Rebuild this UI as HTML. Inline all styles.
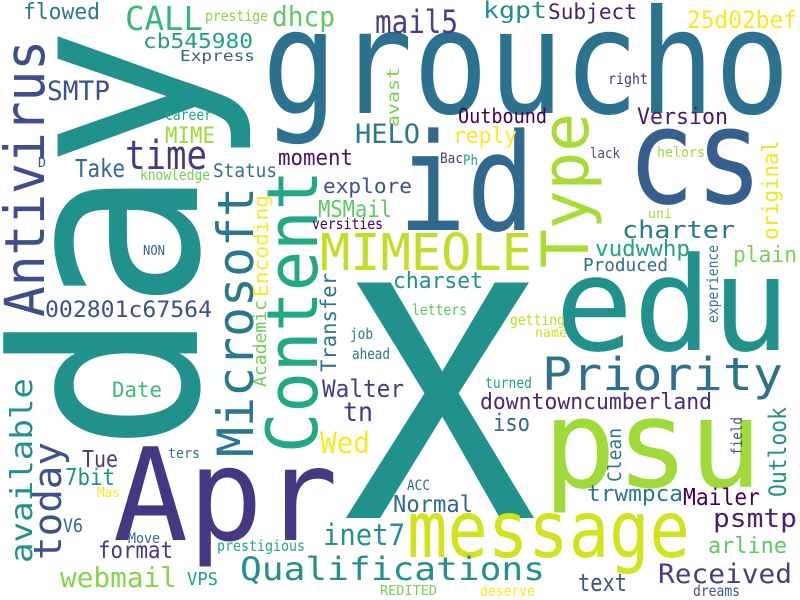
<!DOCTYPE html>
<html><head><meta charset="utf-8"><style>
html,body{margin:0;padding:0;background:#fff}
svg{display:block}
text{font-family:"DejaVu Sans Mono","Liberation Mono",monospace;}
</style></head><body>
<svg width="800" height="600" viewBox="0 0 800 600" xmlns="http://www.w3.org/2000/svg">
<rect width="800" height="600" fill="#fff"/>
<g>
<text transform="translate(197,452) rotate(-90)" font-size="255" textLength="425" lengthAdjust="spacingAndGlyphs" fill="#21918c">day</text>
<text x="343" y="518" font-size="323" textLength="194" lengthAdjust="spacingAndGlyphs" fill="#21918c">X</text>
<text x="262" y="113" font-size="145" textLength="528" lengthAdjust="spacingAndGlyphs" fill="#2c728e">groucho</text>
<text x="113" y="540" font-size="128" textLength="225" lengthAdjust="spacingAndGlyphs" fill="#453781">Apr</text>
<text x="543" y="487" font-size="122" textLength="219" lengthAdjust="spacingAndGlyphs" fill="#a0da39">psu</text>
<text x="555" y="350" font-size="130" textLength="235" lengthAdjust="spacingAndGlyphs" fill="#21918c">edu</text>
<text x="627" y="203" font-size="133" textLength="136" lengthAdjust="spacingAndGlyphs" fill="#355f8d">cs</text>
<text x="398" y="230" font-size="135" textLength="137" lengthAdjust="spacingAndGlyphs" fill="#31688e">id</text>
<text x="407" y="557" font-size="78" textLength="283" lengthAdjust="spacingAndGlyphs" fill="#d2e21b">message</text>
<text transform="translate(317,453) rotate(-90)" font-size="70" textLength="283" lengthAdjust="spacingAndGlyphs" fill="#22a884">Content</text>
<text transform="translate(253,457) rotate(-90)" font-size="50" textLength="270" lengthAdjust="spacingAndGlyphs" fill="#2a788e">Microsoft</text>
<text transform="translate(44,317) rotate(-90)" font-size="55" textLength="277" lengthAdjust="spacingAndGlyphs" fill="#3d4e8a">Antivirus</text>
<text transform="translate(588,268) rotate(-90)" font-size="65" textLength="155" lengthAdjust="spacingAndGlyphs" fill="#a8db34">Type</text>
<text x="320" y="270" font-size="51" textLength="212" lengthAdjust="spacingAndGlyphs" fill="#bddf26">MIMEOLE</text>
<text x="542" y="390" font-size="45" textLength="241" lengthAdjust="spacingAndGlyphs" fill="#2c728e">Priority</text>
<text x="240" y="580" font-size="32" textLength="305" lengthAdjust="spacingAndGlyphs" fill="#21918c">Qualifications</text>
<text x="23" y="19" font-size="22" textLength="77" lengthAdjust="spacingAndGlyphs" fill="#2a788e">flowed</text>
<text x="125" y="30" font-size="33" textLength="78" lengthAdjust="spacingAndGlyphs" fill="#35b779">CALL</text>
<text x="205" y="21" font-size="15" textLength="63" lengthAdjust="spacingAndGlyphs" fill="#86d549">prestige</text>
<text x="272" y="26" font-size="28" textLength="63" lengthAdjust="spacingAndGlyphs" fill="#5ec962">dhcp</text>
<text x="375" y="33" font-size="32" textLength="83" lengthAdjust="spacingAndGlyphs" fill="#433e85">mail5</text>
<text x="483" y="18" font-size="23" textLength="64" lengthAdjust="spacingAndGlyphs" fill="#21918c">kgpt</text>
<text x="548" y="19" font-size="21" textLength="89" lengthAdjust="spacingAndGlyphs" fill="#482173">Subject</text>
<text x="687" y="28" font-size="24" textLength="110" lengthAdjust="spacingAndGlyphs" fill="#fde725">25d02bef</text>
<text x="143" y="48" font-size="20" textLength="110" lengthAdjust="spacingAndGlyphs" fill="#1f9e89">cb545980</text>
<text x="180" y="61" font-size="15" textLength="75" lengthAdjust="spacingAndGlyphs" fill="#33638d">Express</text>
<text x="47" y="100" font-size="27" textLength="63" lengthAdjust="spacingAndGlyphs" fill="#3b528b">SMTP</text>
<text x="165" y="120" font-size="15" textLength="47" lengthAdjust="spacingAndGlyphs" fill="#21a685">career</text>
<text transform="translate(399,127) rotate(-90)" font-size="17" textLength="60" lengthAdjust="spacingAndGlyphs" fill="#7ad151">avast</text>
<text x="355" y="143" font-size="27" textLength="65" lengthAdjust="spacingAndGlyphs" fill="#2a788e">HELO</text>
<text x="165" y="143" font-size="22" textLength="50" lengthAdjust="spacingAndGlyphs" fill="#a0da39">MIME</text>
<text x="125" y="169" font-size="40" textLength="82" lengthAdjust="spacingAndGlyphs" fill="#443983">time</text>
<text x="38" y="167" font-size="13" textLength="8" lengthAdjust="spacingAndGlyphs" fill="#3b528b">D</text>
<text x="278" y="165" font-size="22" textLength="75" lengthAdjust="spacingAndGlyphs" fill="#481467">moment</text>
<text x="75" y="177" font-size="25" textLength="50" lengthAdjust="spacingAndGlyphs" fill="#31688e">Take</text>
<text x="213" y="177" font-size="19" textLength="64" lengthAdjust="spacingAndGlyphs" fill="#2e6e8e">Status</text>
<text x="140" y="180" font-size="15" textLength="70" lengthAdjust="spacingAndGlyphs" fill="#7ad151">knowledge</text>
<text x="323" y="193" font-size="20" textLength="89" lengthAdjust="spacingAndGlyphs" fill="#3b528b">explore</text>
<text x="318" y="217" font-size="23" textLength="74" lengthAdjust="spacingAndGlyphs" fill="#5ec962">MSMail</text>
<text x="312" y="229" font-size="15" textLength="71" lengthAdjust="spacingAndGlyphs" fill="#440154">versities</text>
<text transform="translate(268,297) rotate(-90)" font-size="20" textLength="102" lengthAdjust="spacingAndGlyphs" fill="#fde725">Encoding</text>
<text x="143" y="255" font-size="13" textLength="22" lengthAdjust="spacingAndGlyphs" fill="#31688e">NON</text>
<text transform="translate(336,372) rotate(-90)" font-size="21" textLength="99" lengthAdjust="spacingAndGlyphs" fill="#2a788e">Transfer</text>
<text x="608" y="84" font-size="15" textLength="40" lengthAdjust="spacingAndGlyphs" fill="#433e85">right</text>
<text x="458" y="123" font-size="20" textLength="89" lengthAdjust="spacingAndGlyphs" fill="#440154">Outbound</text>
<text x="637" y="124" font-size="22" textLength="91" lengthAdjust="spacingAndGlyphs" fill="#481a6c">Version</text>
<text x="453" y="143" font-size="22" textLength="64" lengthAdjust="spacingAndGlyphs" fill="#fde725">reply</text>
<text x="590" y="158" font-size="14" textLength="30" lengthAdjust="spacingAndGlyphs" fill="#3b528b">lack</text>
<text x="657" y="157" font-size="14" textLength="48" lengthAdjust="spacingAndGlyphs" fill="#a0da39">helors</text>
<text x="440" y="163" font-size="14" textLength="23" lengthAdjust="spacingAndGlyphs" fill="#433e85">Bac</text>
<text x="463" y="165" font-size="14" textLength="15" lengthAdjust="spacingAndGlyphs" fill="#1fa187">Ph</text>
<text transform="translate(778,240) rotate(-90)" font-size="22" textLength="100" lengthAdjust="spacingAndGlyphs" fill="#f1e51d">original</text>
<text x="648" y="218" font-size="13" textLength="24" lengthAdjust="spacingAndGlyphs" fill="#a0da39">uni</text>
<text x="622" y="238" font-size="24" textLength="113" lengthAdjust="spacingAndGlyphs" fill="#2a788e">charter</text>
<text x="595" y="256" font-size="22" textLength="95" lengthAdjust="spacingAndGlyphs" fill="#1fa187">vudwwhp</text>
<text x="733" y="262" font-size="22" textLength="64" lengthAdjust="spacingAndGlyphs" fill="#7ad151">plain</text>
<text x="583" y="271" font-size="18" textLength="85" lengthAdjust="spacingAndGlyphs" fill="#31688e">Produced</text>
<text transform="translate(718,323) rotate(-90)" font-size="15" textLength="78" lengthAdjust="spacingAndGlyphs" fill="#2a788e">experience</text>
<text x="393" y="288" font-size="22" textLength="90" lengthAdjust="spacingAndGlyphs" fill="#21918c">charset</text>
<text x="45" y="317" font-size="22" textLength="167" lengthAdjust="spacingAndGlyphs" fill="#3b528b">002801c67564</text>
<text transform="translate(266,387) rotate(-90)" font-size="18" textLength="87" lengthAdjust="spacingAndGlyphs" fill="#6ece58">Academic</text>
<text x="350" y="339" font-size="15" textLength="23" lengthAdjust="spacingAndGlyphs" fill="#2a788e">job</text>
<text x="352" y="359" font-size="15" textLength="38" lengthAdjust="spacingAndGlyphs" fill="#2a788e">ahead</text>
<text transform="translate(32,563) rotate(-90)" font-size="30" textLength="185" lengthAdjust="spacingAndGlyphs" fill="#21918c">available</text>
<text transform="translate(61,560) rotate(-90)" font-size="38" textLength="118" lengthAdjust="spacingAndGlyphs" fill="#3b528b">today</text>
<text x="112" y="397" font-size="21" textLength="50" lengthAdjust="spacingAndGlyphs" fill="#3bbb75">Date</text>
<text x="343" y="421" font-size="27" textLength="30" lengthAdjust="spacingAndGlyphs" fill="#443983">tn</text>
<text x="322" y="397" font-size="24" textLength="82" lengthAdjust="spacingAndGlyphs" fill="#433e85">Walter</text>
<text x="320" y="453" font-size="29" textLength="50" lengthAdjust="spacingAndGlyphs" fill="#fde725">Wed</text>
<text x="168" y="458" font-size="14" textLength="32" lengthAdjust="spacingAndGlyphs" fill="#2a788e">ters</text>
<text x="82" y="467" font-size="23" textLength="36" lengthAdjust="spacingAndGlyphs" fill="#433e85">Tue</text>
<text x="65" y="485" font-size="23" textLength="50" lengthAdjust="spacingAndGlyphs" fill="#21918c">7bit</text>
<text x="97" y="497" font-size="13" textLength="23" lengthAdjust="spacingAndGlyphs" fill="#fde725">Mas</text>
<text x="63" y="532" font-size="19" textLength="20" lengthAdjust="spacingAndGlyphs" fill="#31688e">V6</text>
<text x="128" y="543" font-size="14" textLength="32" lengthAdjust="spacingAndGlyphs" fill="#31688e">Move</text>
<text x="217" y="551" font-size="15" textLength="88" lengthAdjust="spacingAndGlyphs" fill="#22a884">prestigious</text>
<text x="98" y="558" font-size="23" textLength="75" lengthAdjust="spacingAndGlyphs" fill="#443983">format</text>
<text x="323" y="545" font-size="29" textLength="82" lengthAdjust="spacingAndGlyphs" fill="#21918c">inet7</text>
<text x="60" y="587" font-size="28" textLength="117" lengthAdjust="spacingAndGlyphs" fill="#86d549">webmail</text>
<text x="187" y="585" font-size="18" textLength="31" lengthAdjust="spacingAndGlyphs" fill="#1f9e89">VPS</text>
<text x="380" y="595" font-size="13" textLength="57" lengthAdjust="spacingAndGlyphs" fill="#7ad151">REDITED</text>
<text x="393" y="512" font-size="23" textLength="80" lengthAdjust="spacingAndGlyphs" fill="#31688e">Normal</text>
<text x="412" y="315" font-size="15" textLength="55" lengthAdjust="spacingAndGlyphs" fill="#5ec962">letters</text>
<text x="510" y="325" font-size="15" textLength="55" lengthAdjust="spacingAndGlyphs" fill="#bddf26">getting</text>
<text x="535" y="337" font-size="13" textLength="32" lengthAdjust="spacingAndGlyphs" fill="#d0e11c">name</text>
<text x="485" y="388" font-size="15" textLength="47" lengthAdjust="spacingAndGlyphs" fill="#20a386">turned</text>
<text x="480" y="409" font-size="22" textLength="232" lengthAdjust="spacingAndGlyphs" fill="#482878">downtowncumberland</text>
<text x="493" y="431" font-size="24" textLength="37" lengthAdjust="spacingAndGlyphs" fill="#31688e">iso</text>
<text transform="translate(621,482) rotate(-90)" font-size="19" textLength="54" lengthAdjust="spacingAndGlyphs" fill="#2a788e">Clean</text>
<text transform="translate(742,455) rotate(-90)" font-size="15" textLength="38" lengthAdjust="spacingAndGlyphs" fill="#3b528b">field</text>
<text transform="translate(786,497) rotate(-90)" font-size="24" textLength="90" lengthAdjust="spacingAndGlyphs" fill="#21918c">Outlook</text>
<text x="407" y="490" font-size="14" textLength="23" lengthAdjust="spacingAndGlyphs" fill="#31688e">ACC</text>
<text x="587" y="501" font-size="22" textLength="96" lengthAdjust="spacingAndGlyphs" fill="#2a788e">trwmpca</text>
<text x="683" y="505" font-size="23" textLength="77" lengthAdjust="spacingAndGlyphs" fill="#440154">Mailer</text>
<text x="713" y="527" font-size="26" textLength="84" lengthAdjust="spacingAndGlyphs" fill="#482173">psmtp</text>
<text x="708" y="553" font-size="22" textLength="79" lengthAdjust="spacingAndGlyphs" fill="#5ec962">arline</text>
<text x="658" y="583" font-size="27" textLength="134" lengthAdjust="spacingAndGlyphs" fill="#433e85">Received</text>
<text x="578" y="591" font-size="24" textLength="49" lengthAdjust="spacingAndGlyphs" fill="#3b528b">text</text>
<text x="480" y="596" font-size="15" textLength="55" lengthAdjust="spacingAndGlyphs" fill="#fde725">deserve</text>
<text x="693" y="596" font-size="15" textLength="47" lengthAdjust="spacingAndGlyphs" fill="#3b528b">dreams</text>
</g>
</svg>
</body></html>
